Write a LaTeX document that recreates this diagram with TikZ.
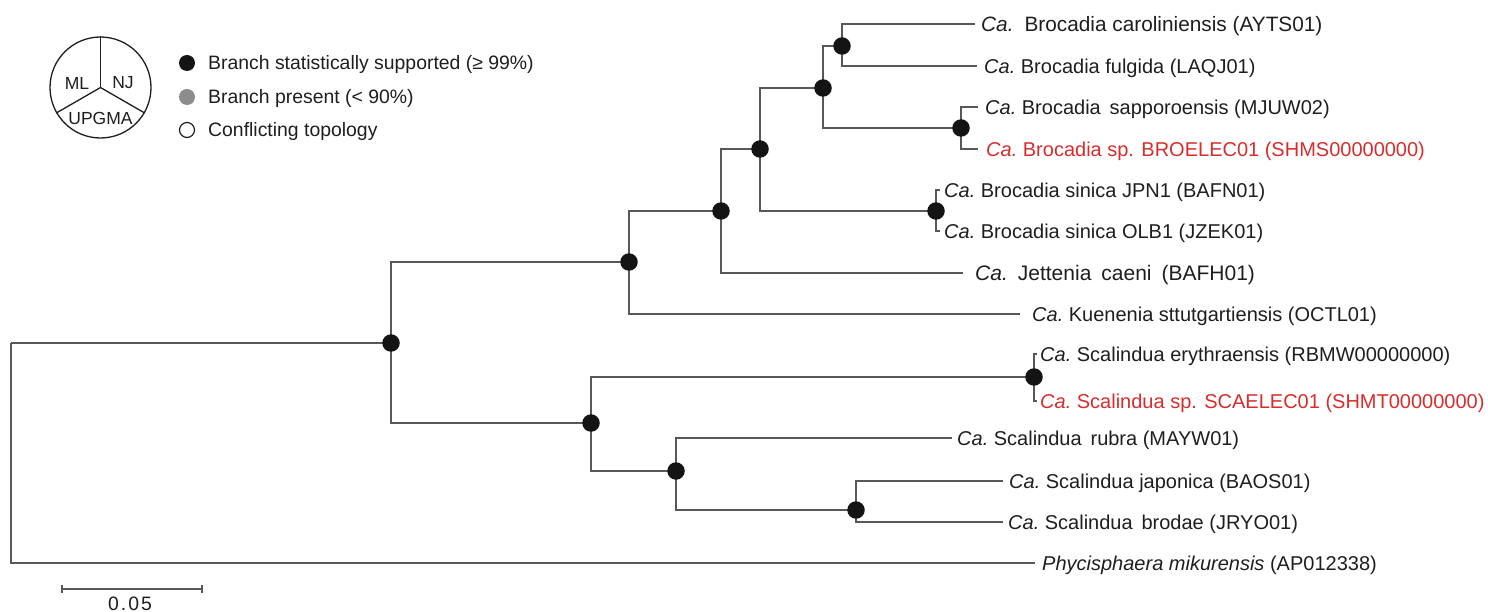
\documentclass[tikz,border=0pt]{standalone}
\usepackage{fontspec}
\setmainfont{Liberation Sans}
\usetikzlibrary{backgrounds}
\definecolor{br}{RGB}{88,88,88}
\definecolor{rd}{RGB}{214,45,45}
\definecolor{tx}{RGB}{30,30,30}
\definecolor{dotc}{RGB}{20,20,20}
\definecolor{gdot}{RGB}{140,140,140}
\newcommand{\ca}{\textit{Ca.}}
\begin{document}
\begin{tikzpicture}[x=1pt,y=-1pt,
  dot/.style={circle,fill=dotc,inner sep=0pt,minimum size=17.5pt},
  lab/.style={anchor=west,inner xsep=6pt,inner ysep=0pt,text height=14.3pt,text depth=0pt,font=\fontsize{20}{22}\selectfont,text=tx},
  redlab/.style={lab,text=rd},
  leg/.style={anchor=west,inner xsep=0pt,inner ysep=0pt,text height=14pt,text depth=0pt,font=\fontsize{19.4}{20}\selectfont,text=tx},
  pie/.style={font=\fontsize{17.5}{18}\selectfont,text=tx,inner sep=0pt},
  branch/.style={draw=br,line width=1.4pt}]
\useasboundingbox (0,0) rectangle (1488,612);

% internal nodes (dots)
\coordinate (R) at (11,343);
\node[dot] (H) at (391,343) {};
\node[dot] (G) at (629,262) {};
\node[dot] (F) at (721,211) {};
\node[dot] (D) at (760,149) {};
\node[dot] (B) at (823,88) {};
\node[dot] (A) at (842,46) {};
\node[dot] (C) at (961,128) {};
\node[dot] (E) at (936,211) {};
\node[dot] (J) at (591,423) {};
\node[dot] (I) at (1034,377) {};
\node[dot] (K) at (676,471) {};
\node[dot] (L) at (856,510) {};

% leaves
\node[lab,font=\fontsize{20.8}{22}\selectfont] (l1) at (975,24) {\ca\hspace{11pt}Brocadia caroliniensis (AYTS01)};
\node[lab,inner xsep=7pt] (l2) at (977,66) {\ca\ Brocadia fulgida (LAQJ01)};
\node[lab,inner xsep=7pt] (l3) at (978,107) {\ca\ Brocadia\, sapporoensis (MJUW02)};
\node[redlab,inner xsep=8pt] (l4) at (978,149) {\ca\ Brocadia sp. BROELEC01 (SHMS00000000)};
\node[lab,inner xsep=4pt] (l5) at (940,190) {\ca\ Brocadia sinica JPN1 (BAFN01)};
\node[lab,inner xsep=4pt] (l6) at (940,231) {\ca\ Brocadia sinica OLB1 (JZEK01)};
\node[lab,inner xsep=12pt,font=\fontsize{21}{22}\selectfont] (l7) at (963,273) {\ca\hspace{10pt}Jettenia\hspace{10pt}caeni\hspace{10pt}(BAFH01)};
\node[lab,inner xsep=12pt] (l8) at (1020,314) {\ca\ Kuenenia sttutgartiensis (OCTL01)};
\node[lab,inner xsep=3pt] (l9) at (1037,354) {\ca\ Scalindua erythraensis (RBMW00000000)};
\node[redlab,inner xsep=3pt] (l10) at (1037,401) {\ca\ Scalindua sp. SCAELEC01 (SHMT00000000)};
\node[lab,inner xsep=5pt] (l11) at (952,438) {\ca\ Scalindua\, rubra (MAYW01)};
\node[lab,inner xsep=6pt] (l12) at (1003,481) {\ca\ Scalindua japonica (BAOS01)};
\node[lab,inner xsep=5pt] (l13) at (1003,522) {\ca\ Scalindua\, brodae (JRYO01)};
\node[lab,inner xsep=7pt] (l14) at (1035,563) {\textit{Phycisphaera mikurensis} (AP012338)};

\begin{scope}[on background layer]
\path[branch] (R) |- (H.center);
\path[branch] (R) |- (l14.west);
\path[branch] (H.center) |- (G.center);
\path[branch] (H.center) |- (J.center);
\path[branch] (G.center) |- (F.center);
\path[branch] (G.center) |- (l8.west);
\path[branch] (F.center) |- (D.center);
\path[branch] (F.center) |- (l7.west);
\path[branch] (D.center) |- (B.center);
\path[branch] (D.center) |- (E.center);
\path[branch] (B.center) |- (A.center);
\path[branch] (B.center) |- (C.center);
\path[branch] (A.center) |- (l1.west);
\path[branch] (A.center) |- (l2.west);
\path[branch] (C.center) |- (l3.west);
\path[branch] (C.center) |- (l4.west);
\path[branch] (E.center) |- (l5.west);
\path[branch] (E.center) |- (l6.west);
\path[branch] (J.center) |- (I.center);
\path[branch] (J.center) |- (K.center);
\path[branch] (I.center) |- (l9.west);
\path[branch] (I.center) |- (l10.west);
\path[branch] (K.center) |- (l11.west);
\path[branch] (K.center) |- (L.center);
\path[branch] (L.center) |- (l12.west);
\path[branch] (L.center) |- (l13.west);
\end{scope}

% legend pie
\node[circle,draw=tx,line width=1.3pt,minimum size=101pt,inner sep=0pt] (pie) at (100.5,87.5) {};
\draw[tx,line width=1.3pt] (pie.center) -- (pie.90);
\draw[tx,line width=1.3pt] (pie.center) -- (pie.210);
\draw[tx,line width=1.3pt] (pie.center) -- (pie.330);
\node[pie] (ml) at (77,83) {ML};
\node[pie] (nj) at (123,83) {NJ};
\node[pie] (up) at (100.5,118) {UPGMA};

% legend key
\node[circle,fill=dotc,inner sep=0pt,minimum size=16pt] (k1) at (187,63) {};
\node[circle,fill=gdot,inner sep=0pt,minimum size=16pt] (k2) at (187,97) {};
\node[circle,draw=tx,fill=white,line width=1.2pt,inner sep=0pt,minimum size=15pt] (k3) at (187,130) {};
\node[leg] (t1) at (208,63) {Branch statistically supported (≥ 99\%)};
\node[leg] (t2) at (208,97) {Branch present (< 90\%)};
\node[leg] (t3) at (208,130) {Conflicting topology};

% scale bar
\coordinate (s1) at (62,589);
\coordinate (s2) at (202,589);
\draw[br,line width=1.4pt] (s1) -- (s2);
\draw[br,line width=1.4pt] ([yshift=4pt]s1) -- ([yshift=-4pt]s1);
\draw[br,line width=1.4pt] ([yshift=4pt]s2) -- ([yshift=-4pt]s2);
\node[font=\fontsize{19.4}{20}\selectfont,text=tx,inner sep=0pt,text height=14pt,text depth=0pt] (sl) at (130,603) {0\kern2pt.\kern2pt0\kern2pt5};
\end{tikzpicture}
\end{document}
